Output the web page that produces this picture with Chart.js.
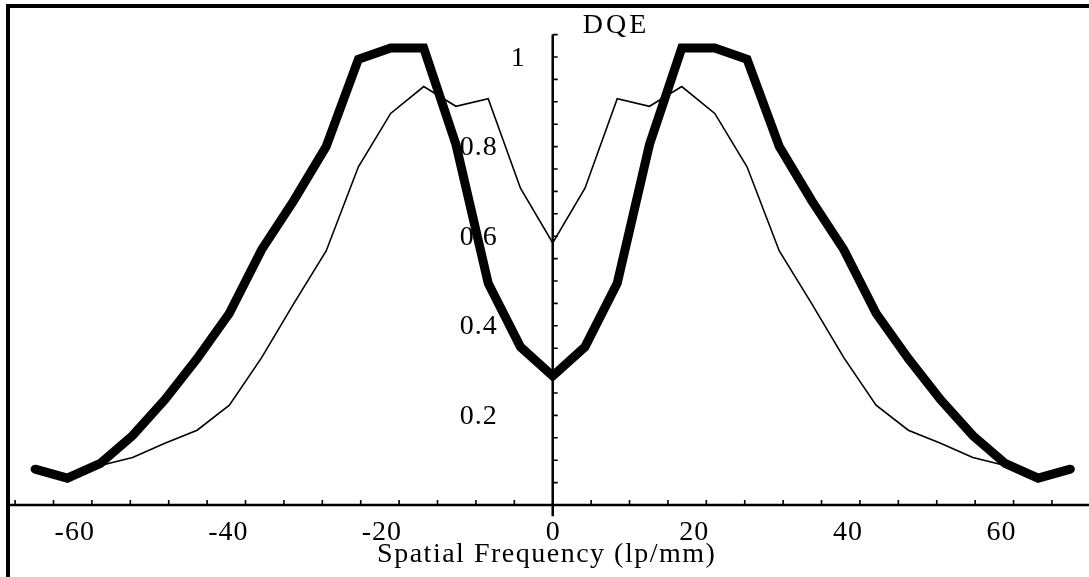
<!DOCTYPE html>
<html>
<head>
<meta charset="utf-8">
<script src="https://cdn.jsdelivr.net/npm/chart.js@4/dist/chart.umd.min.js"></script>
<style>
  html, body { margin: 0; padding: 0; background: #fff; }
  #wrap { width: 1089px; height: 577px; }
</style>
</head>
<body>
<div id="wrap"><canvas id="c" width="1089" height="577"></canvas></div>
<script>
// ---- data ----
const freq = [-67.4, -63.2, -58.9, -54.7, -50.5, -46.3, -42.1, -37.9, -33.7, -29.5, -25.3, -21.1, -16.8, -12.6, -8.4, -4.2,
              0, 4.2, 8.4, 12.6, 16.8, 21.1, 25.3, 29.5, 33.7, 37.9, 42.1, 46.3, 50.5, 54.7, 58.9, 63.2, 67.4];
const dqeThick = [0.08, 0.06, 0.093, 0.155, 0.235, 0.327, 0.428, 0.57, 0.68, 0.80, 0.995, 1.02, 1.02, 0.805, 0.495, 0.353,
                  0.288, 0.353, 0.495, 0.805, 1.02, 1.02, 0.995, 0.80, 0.68, 0.57, 0.428, 0.327, 0.235, 0.155, 0.093, 0.06, 0.08];
const freqThin = [-58.9, -54.7, -50.5, -46.3, -42.1, -37.9, -33.7, -29.5, -25.3, -21.1, -16.8, -12.6, -8.4, -4.2,
                  0, 4.2, 8.4, 12.6, 16.8, 21.1, 25.3, 29.5, 33.7, 37.9, 42.1, 46.3, 50.5, 54.7, 58.9];
const dqeThin = [0.088, 0.106, 0.138, 0.167, 0.223, 0.329, 0.45, 0.567, 0.755, 0.874, 0.934, 0.89, 0.907, 0.707,
                 0.585, 0.707, 0.907, 0.89, 0.934, 0.874, 0.755, 0.567, 0.45, 0.329, 0.223, 0.167, 0.138, 0.106, 0.088];
const xTickLabels = [-60, -40, -20, 0, 20, 40, 60];
const yTickLabels = [0.2, 0.4, 0.6, 0.8, 1];
const xMinorStep = 5;
const yMinorStep = 0.05;
const xTitle = 'Spatial Frequency (lp/mm)';
const yTitle = 'DQE';

const X_MIN = -70, X_MAX = 69.5, Y_MIN = -0.025, Y_MAX = 1.05;
const FONT = '"Liberation Serif", "DejaVu Serif", serif';

const toPts = (xs, ys) => xs.map((v, i) => ({ x: v, y: ys[i] }));

const axesPlugin = {
  id: 'mathAxes',
  beforeDatasetsDraw(chart) {
    const { ctx } = chart;
    const xs = chart.scales.x, ys = chart.scales.y;
    const x0 = xs.getPixelForValue(0);
    const y0 = ys.getPixelForValue(0);
    ctx.save();
    ctx.fillStyle = '#000';
    ctx.strokeStyle = '#000';
    // frame (left and top edges)
    ctx.fillRect(6, 4, 4, chart.height - 4);
    ctx.fillRect(6, 4, chart.width - 6, 4);
    // axes lines
    ctx.lineWidth = 2.5;
    ctx.beginPath();
    ctx.moveTo(10, y0); ctx.lineTo(chart.width, y0);
    ctx.moveTo(x0, ys.getPixelForValue(Y_MAX)); ctx.lineTo(x0, ys.getPixelForValue(Y_MIN));
    ctx.stroke();
    // minor ticks
    ctx.lineWidth = 1.6;
    ctx.beginPath();
    for (let v = X_MIN; v <= X_MAX + 1e-9; v += xMinorStep) {
      if (Math.abs(v) < 1e-9) continue;
      const p = xs.getPixelForValue(v);
      ctx.moveTo(p, y0); ctx.lineTo(p, y0 - 5);
    }
    for (let k = 1; k * yMinorStep <= Y_MAX + 1e-9; k++) {
      const p = ys.getPixelForValue(k * yMinorStep);
      ctx.moveTo(x0, p); ctx.lineTo(x0 + 5, p);
    }
    ctx.stroke();
    // labels
    ctx.font = '28px ' + FONT;
    ctx.letterSpacing = '1px';
    ctx.textBaseline = 'alphabetic';
    xTickLabels.forEach(v => {
      const p = xs.getPixelForValue(v);
      const s = String(v);
      if (v === 0) { ctx.textAlign = 'center'; ctx.fillText(s, p + 0.5, y0 + 35); }
      else { ctx.textAlign = 'right'; ctx.fillText(s, p + 3, y0 + 35); }
    });
    yTickLabels.forEach(v => {
      const p = ys.getPixelForValue(v);
      const s = String(v);
      ctx.textAlign = 'right';
      const gap = Number.isInteger(v) ? 27 : 55;
      ctx.fillText(s, x0 - gap, p + 8.5);
    });
    ctx.font = '28px ' + FONT;
    ctx.letterSpacing = '3px';
    ctx.textAlign = 'left';
    ctx.fillText(yTitle, x0 + 30, 33);
    ctx.textAlign = 'center';
    ctx.letterSpacing = '1.5px';
    ctx.fillText(xTitle, x0 - 6, y0 + 57);
    ctx.restore();
  }
};

new Chart(document.getElementById('c'), {
  type: 'line',
  data: {
    datasets: [
      {
        data: toPts(freq, dqeThick),
        borderColor: '#000',
        borderWidth: 9,
        borderCapStyle: 'round',
        borderJoinStyle: 'miter',
        pointRadius: 0,
        tension: 0,
        fill: false,
        clip: false
      },
      {
        data: toPts(freqThin, dqeThin),
        borderColor: '#000',
        borderWidth: 1.6,
        borderJoinStyle: 'miter',
        pointRadius: 0,
        tension: 0,
        fill: false,
        clip: false
      }
    ]
  },
  options: {
    responsive: false,
    animation: false,
    devicePixelRatio: 1,
    layout: { padding: { left: 15.1, right: 2.5, top: 34.6, bottom: 60.8 } },
    plugins: { legend: { display: false }, tooltip: { enabled: false }, title: { display: false } },
    scales: {
      x: { type: 'linear', min: X_MIN, max: X_MAX, display: false },
      y: { type: 'linear', min: Y_MIN, max: Y_MAX, display: false }
    }
  },
  plugins: [axesPlugin]
});
</script>
</body>
</html>
